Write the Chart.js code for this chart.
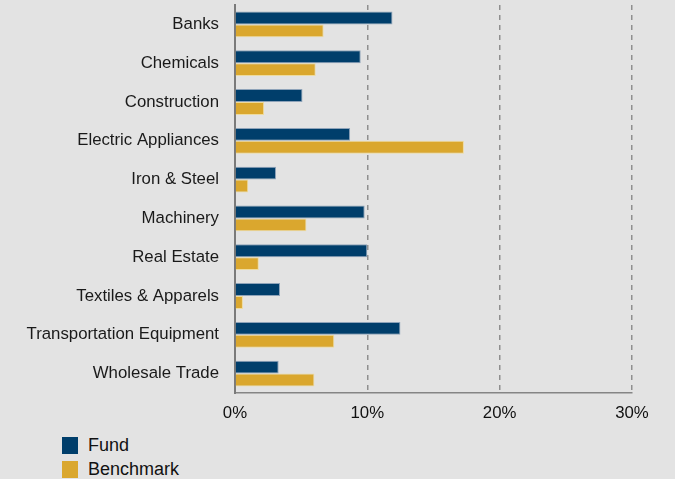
<!DOCTYPE html>
<html>
<head>
<meta charset="utf-8">
<script src="https://cdn.jsdelivr.net/npm/chart.js@4.4.1/dist/chart.umd.min.js"></script>
<style>
  html, body { margin: 0; padding: 0; background: #E3E3E3; }
  #wrap { position: relative; width: 675px; height: 479px; overflow: hidden; background: #E3E3E3; }
  #box { position: absolute; left: 0; top: 0; width: 675px; height: 430px; }
  #legend { position: absolute; left: 62px; top: 433px; font-family: "Liberation Sans", Arial, sans-serif; font-size: 18px; color: #111; }
  .item { display: flex; align-items: center; height: 24px; }
  .sw { width: 16px; height: 17px; margin-right: 10px; }
</style>
</head>
<body>
<div id="wrap">
  <div id="box"><canvas id="c"></canvas></div>
  <div id="legend"></div>
</div>
<script>
const categories = ["Banks", "Chemicals", "Construction", "Electric Appliances", "Iron & Steel", "Machinery", "Real Estate", "Textiles & Apparels", "Transportation Equipment", "Wholesale Trade"];
const fundValues = [11.9, 9.5, 5.1, 8.7, 3.1, 9.8, 10.0, 3.4, 12.5, 3.3];
const benchmarkValues = [6.7, 6.1, 2.2, 17.3, 1.0, 5.4, 1.8, 0.6, 7.5, 6.0];
const xTicks = [0, 10, 20, 30];
const seriesNames = ["Fund", "Benchmark"];
const seriesColors = ["#003E6B", "#DAA72E"];
const seriesBorders = ["#8EA3B9", "#EEDB9E"];

const legend = document.getElementById('legend');
seriesNames.forEach((n, i) => {
  const d = document.createElement('div');
  d.className = 'item';
  d.innerHTML = '<span class="sw" style="background:' + seriesColors[i] + '"></span><span>' + n + '</span>';
  legend.appendChild(d);
});

const font = { family: '"Liberation Sans", Arial, sans-serif', size: 16.8 };

new Chart(document.getElementById('c'), {
  type: 'bar',
  data: {
    labels: categories,
    datasets: [
      { label: seriesNames[0], data: fundValues, backgroundColor: seriesColors[0], borderColor: seriesBorders[0], borderWidth: 1 },
      { label: seriesNames[1], data: benchmarkValues, backgroundColor: seriesColors[1], borderColor: seriesBorders[1], borderWidth: 1 }
    ]
  },
  options: {
    indexAxis: 'y',
    responsive: true,
    maintainAspectRatio: false,
    animation: false,
    datasets: { bar: { categoryPercentage: 0.665, barPercentage: 1 } },
    layout: { padding: { top: 5, right: 43, left: 0, bottom: 0 } },
    plugins: { legend: { display: false }, tooltip: { enabled: false } },
    scales: {
      x: {
        min: 0, max: 30,
        afterBuildTicks: (s) => { s.ticks = xTicks.map(v => ({ value: v })); },
        afterFit: (s) => { s.height = 37; s.paddingLeft = 0; s.paddingRight = 0; },
        ticks: { callback: (v) => v + '%', color: '#111', font: font, padding: 10, maxRotation: 0 },
        grid: {
          drawTicks: false,
          color: (ctx) => ctx.tick && ctx.tick.value === 0 ? 'rgba(0,0,0,0)' : '#8F8F8F',
          lineWidth: 1.5
        },
        border: { display: true, color: '#858585', width: 1.5, dash: [5, 5] }
      },
      y: {
        afterFit: (s) => { s.width = 235; s.paddingTop = 0; s.paddingBottom = 0; },
        ticks: { color: '#1a1a1a', font: font, padding: 16 },
        grid: { display: false, drawTicks: false },
        border: { display: true, color: '#7A7A7A', width: 2 }
      }
    }
  }
});
</script>
</body>
</html>
